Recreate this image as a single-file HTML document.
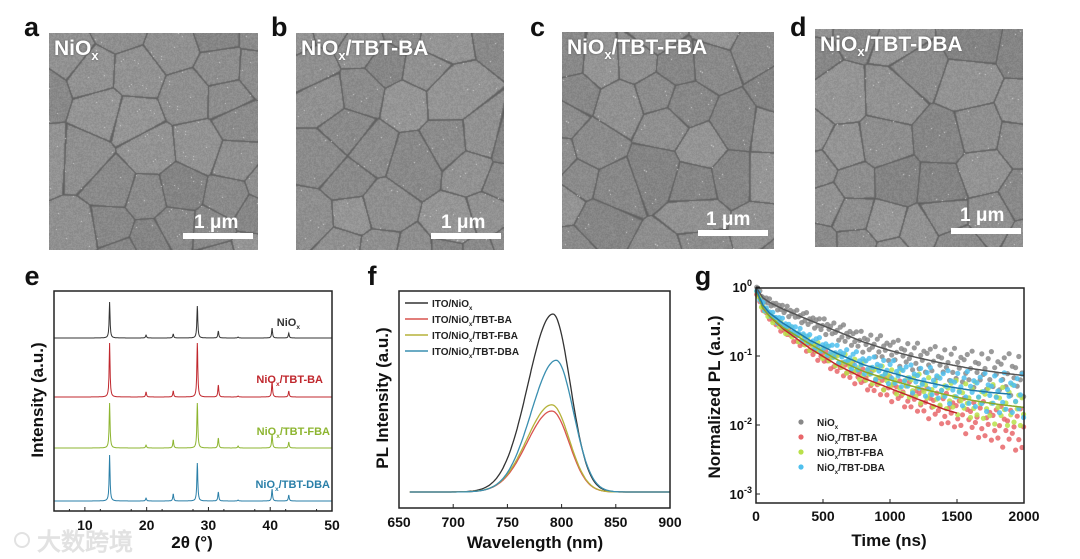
<!DOCTYPE html>
<html><head><meta charset="utf-8">
<style>
body{margin:0;background:#fff;width:1080px;height:559px;overflow:hidden;position:relative;font-family:"Liberation Sans","Noto Sans CJK SC",sans-serif}
.lbl{position:absolute;font-weight:bold;font-size:27px;color:#111}
.sem{position:absolute;background:#8c8c8c;overflow:hidden}
.sem canvas{position:absolute;left:0;top:0}
.st{position:absolute;left:5px;top:4px;color:#fff;font-weight:bold;font-size:21px;white-space:nowrap;text-shadow:0 0 2px #555}
.st sub{font-size:13px}
.sbt{position:absolute;color:#fff;font-weight:bold;font-size:19px}
.sbb{position:absolute;background:#fff;height:6px}
svg{position:absolute;left:0;top:0}
svg text{font-family:"Liberation Sans",sans-serif;font-weight:bold}
</style></head><body>
<div class="lbl" style="left:24px;top:12px">a</div>
<div class="lbl" style="left:271px;top:12px">b</div>
<div class="lbl" style="left:530px;top:12px">c</div>
<div class="lbl" style="left:790px;top:12px">d</div>

<div class="sem" style="left:49px;top:33px;width:209px;height:217px"><canvas width="209" height="217"></canvas><div class="st">NiO<sub>x</sub></div><div class="sbt" style="left:145px;top:179px">1 μm</div><div class="sbb" style="left:134px;top:200px;width:70px"></div></div>
<div class="sem" style="left:296px;top:33px;width:208px;height:217px"><canvas width="208" height="217"></canvas><div class="st">NiO<sub>x</sub>/TBT-BA</div><div class="sbt" style="left:145px;top:179px">1 μm</div><div class="sbb" style="left:135px;top:200px;width:70px"></div></div>
<div class="sem" style="left:562px;top:32px;width:212px;height:217px"><canvas width="212" height="217"></canvas><div class="st">NiO<sub>x</sub>/TBT-FBA</div><div class="sbt" style="left:144px;top:177px">1 μm</div><div class="sbb" style="left:136px;top:198px;width:70px"></div></div>
<div class="sem" style="left:815px;top:29px;width:208px;height:218px"><canvas width="208" height="218"></canvas><div class="st">NiO<sub>x</sub>/TBT-DBA</div><div class="sbt" style="left:145px;top:176px">1 μm</div><div class="sbb" style="left:136px;top:199px;width:70px"></div></div>

<svg id="chart" width="1080" height="559"></svg>

<script>
// ---------- XRD data (panel e) ----------
const xrdPeakPos = [14.0, 19.9, 24.3, 28.2, 31.6, 34.8, 40.3, 43.0];
const xrdNiOx = [36, 3, 4, 32, 7, 1, 10, 5];
const xrdBA   = [54, 5, 6, 54, 12, 1, 16, 6];
const xrdFBA  = [45, 3, 8, 45, 10, 2, 14, 6];
const xrdDBA  = [46, 3, 7, 38, 9, 1, 12, 6];
const xrdXTicks = [10, 20, 30, 40, 50];
// ---------- PL data (panel f) ----------
const plSeriesNames = ["ITO/NiOx", "ITO/NiOx/TBT-BA", "ITO/NiOx/TBT-FBA", "ITO/NiOx/TBT-DBA"];
const plPeakHeights = [1.0, 0.455, 0.49, 0.74];
const plPeakCenters = [792, 791, 791, 795];
const plXTicks = [650, 700, 750, 800, 850, 900];
// ---------- TRPL data (panel g) ----------
const trTimes = [0, 50, 100, 200, 400, 600, 800, 1000, 1200, 1400, 1600, 1800, 2000];
const trNiOx = [1.0, 0.7, 0.6, 0.48, 0.33, 0.23, 0.16, 0.12, 0.095, 0.078, 0.066, 0.058, 0.052];
const trBA   = [0.9, 0.5, 0.38, 0.25, 0.13, 0.075, 0.048, 0.034, 0.024, 0.017, 0.013, 0.010, 0.008];
const trFBA  = [0.9, 0.5, 0.38, 0.26, 0.15, 0.09, 0.06, 0.045, 0.035, 0.028, 0.023, 0.020, 0.018];
const trDBA  = [0.95, 0.55, 0.42, 0.30, 0.17, 0.11, 0.075, 0.058, 0.045, 0.037, 0.032, 0.029, 0.027];
const trFitEnd = [2000, 1500, 2000, 1900];
const trJitter = [0.3,-0.5,0.8,-0.2,0.1,-0.9,0.6,-0.4,0.95,-0.7,0.2,-0.1,0.5,-0.8,0.4,-0.3,0.7,-0.6,0.0,0.9,-0.95,0.35,-0.15];
const trXTicks = [0, 500, 1000, 1500, 2000];

const NS="http://www.w3.org/2000/svg";
const svg=document.getElementById('chart');
function mk(tag,attrs,parent){const e=document.createElementNS(NS,tag);for(const k in attrs)e.setAttribute(k,attrs[k]);(parent||svg).appendChild(e);return e;}
function txt(s,x,y,size,anchor,fill,name,parent){const t=mk('text',{x:x,y:y,'font-size':size,'text-anchor':anchor||'middle',fill:fill||'#111'},parent);t.textContent=s;


return t;}
function sub(t,main,s,rest){t.textContent='';const a=mk('tspan',{},t);a.textContent=main;const b=mk('tspan',{'font-size':'0.6em',dy:'3'},t);b.textContent=s;if(rest){const c=mk('tspan',{dy:'-3'},t);c.textContent=rest;}}

// ===== Panel e =====
(function(){
 const L=54,R=332,T=291,B=511, x0=5,x1=50;
 const xs=v=>L+(v-x0)/(x1-x0)*(R-L);
 const g=mk('g',{});
 
 
 const series=[[xrdNiOx,338,'#333','NiOx',300],[xrdBA,397,'#c0272d','NiOx/TBT-BA',323],[xrdFBA,448,'#8db530','NiOx/TBT-FBA',330],[xrdDBA,501,'#2a7fa8','NiOx/TBT-DBA',330]];
 series.forEach((s,si)=>{
  let d='';
  for(let v=x0;v<=x1;v+=0.04){
   let y=0;xrdPeakPos.forEach((p,i)=>{const w=0.09;y+=s[0][i]/(1+((v-p)/w)**2);});
   d+=(d?'L':'M')+xs(v).toFixed(1)+','+(s[1]-y).toFixed(1);
  }
  const p=mk('path',{d:d,fill:'none',stroke:s[2],'stroke-width':1},g);
  
  
  const t=txt('',s[4],s[1]-[12,14,13,13][si],11,'end',s[2],'xrd-series-label-'+si,g);
  const parts=s[3].split('x');sub(t,parts[0],'x',parts[1]);
 });
 const fr=mk('rect',{x:L,y:T,width:R-L,height:B-T,fill:'none',stroke:'#222','stroke-width':1.5},g);
 
 xrdXTicks.forEach(v=>{mk('line',{x1:xs(v),x2:xs(v),y1:B,y2:B-4,stroke:'#222'},g);txt(String(v),xs(v),B+19,14,'middle','#111','xrd-x-tick-'+v,g);});
 [7.5,12.5,17.5,22.5,27.5,32.5,37.5,42.5,47.5].forEach(v=>mk('line',{x1:xs(v),x2:xs(v),y1:B,y2:B-2,stroke:'#222'},g));
 txt('2θ (°)',192,548,17,'middle','#111','xrd-x-axis-title',g);
 const yt=txt('Intensity (a.u.)',0,0,17,'middle','#111','xrd-y-axis-title',g);yt.setAttribute('transform','translate(43,400) rotate(-90)');
 txt('e',32,285,27,'middle','#111','panel-label-e',g);
})();

// ===== Panel f =====
(function(){
 const L=399,R=670,T=291,B=508,x0=650,x1=900,base=492,unit=178;
 const xs=v=>L+(v-x0)/(x1-x0)*(R-L);
 const ys=v=>base-v*unit;
 const g=mk('g',{});
 
 const cols=['#333','#d9534f','#b5b23a','#3a8fb0'];
 plPeakHeights.forEach((h,i)=>{
  let d='';
  for(let v=660;v<=900;v+=1){const c=plPeakCenters[i];const sg=v<c?23:16;const y=h*Math.exp(-0.5*((v-c)/sg)**2);
   d+=(d?'L':'M')+xs(v).toFixed(1)+','+ys(y).toFixed(1);}
  const p=mk('path',{d:d,fill:'none',stroke:cols[i],'stroke-width':1.3},g);
  
  const ly=303+i*16;
  const ll=mk('line',{x1:405,x2:428,y1:ly,y2:ly,stroke:cols[i],'stroke-width':1.5},g);
  
  const t=txt('',432,ly+4,10,'start','#222','pl-legend-entry-'+i,g);
  const n=plSeriesNames[i];const k=n.indexOf('x');sub(t,n.slice(0,k),'x',n.slice(k+1));
 });
 const fr=mk('rect',{x:L,y:T,width:R-L,height:B-T,fill:'none',stroke:'#222','stroke-width':1.5},g);
 
 plXTicks.forEach(v=>{mk('line',{x1:xs(v),x2:xs(v),y1:B,y2:B-4,stroke:'#222'},g);txt(String(v),xs(v),B+19,14,'middle','#111','pl-x-tick-'+v,g);});
 txt('Wavelength (nm)',535,548,17,'middle','#111','pl-x-axis-title',g);
 const yt=txt('PL Intensity (a.u.)',0,0,17,'middle','#111','pl-y-axis-title',g);yt.setAttribute('transform','translate(388,398) rotate(-90)');
 txt('f',372,285,27,'middle','#111','panel-label-f',g);
})();

// ===== Panel g =====
(function(){
 const L=756,R=1024,T=288,B=503,x0=0,x1=2000;
 const xs=v=>L+(v-x0)/(x1-x0)*(R-L);
 const ys=v=>287-(Math.log10(v))*69;
 const g=mk('g',{});
 
 const interp=(arr,t)=>{for(let i=1;i<trTimes.length;i++){if(t<=trTimes[i]){const f=(t-trTimes[i-1])/(trTimes[i]-trTimes[i-1]);return Math.exp(Math.log(arr[i-1])*(1-f)+Math.log(arr[i])*f);}}return arr[arr.length-1];};
 const sets=[[trNiOx,'#888','#555','NiOx'],[trBA,'#e8666a','#c0272d','NiOx/TBT-BA'],[trFBA,'#b9e04a','#8aa82a','NiOx/TBT-FBA'],[trDBA,'#4fc0ee','#1f78a8','NiOx/TBT-DBA']];
 const order=[0,1,2,3];
 order.forEach(si=>{
  const s=sets[si];let k=si*5;
  for(let t=5;t<=2000;t+=12){
   const spread=0.04+0.3*t/2000;const j=trJitter[(k++)%trJitter.length];
   let v=interp(s[0],t)*Math.pow(10,j*spread);
   const y=Math.min(ys(v),B-4);
   const c=mk('circle',{cx:xs(t).toFixed(1),cy:y.toFixed(1),r:2.6,fill:s[1],opacity:0.85},g);
   
  }
 });
 order.forEach(si=>{
  const s=sets[si];let d='';
  for(let t=0;t<=trFitEnd[si];t+=10){d+=(d?'L':'M')+xs(t).toFixed(1)+','+ys(interp(s[0],t)).toFixed(1);}
  const p=mk('path',{d:d,fill:'none',stroke:s[2],'stroke-width':1.5},g);
  
  const ly=422+si*15;
  const lc=mk('circle',{cx:801,cy:ly,r:2.6,fill:s[1]},g);
  
  const t=txt('',817,ly+4,10,'start','#222','trpl-legend-entry-'+si,g);
  const n=s[3];const kk=n.indexOf('x');sub(t,n.slice(0,kk),'x',n.slice(kk+1));
 });
 const fr=mk('rect',{x:L,y:T,width:R-L,height:B-T,fill:'none',stroke:'#222','stroke-width':1.5},g);
 
 trXTicks.forEach(v=>{mk('line',{x1:xs(v),x2:xs(v),y1:B,y2:B-4,stroke:'#222'},g);txt(String(v),xs(v),B+18,14,'middle','#111','trpl-x-tick-'+v,g);});
 [0,-1,-2,-3].forEach(e=>{const y=ys(Math.pow(10,e));mk('line',{x1:L,x2:L+4,y1:y,y2:y,stroke:'#222'},g);
  const t=txt('',L-4,y+5,13,'end','#111','trpl-y-tick-'+e,g);const a=mk('tspan',{},t);a.textContent='10';const b=mk('tspan',{'font-size':'9',dy:'-6'},t);b.textContent=String(e);});
 txt('Time (ns)',889,546,17,'middle','#111','trpl-x-axis-title',g);
 const yt=txt('Normalized PL (a.u.)',0,0,17,'middle','#111','trpl-y-axis-title',g);yt.setAttribute('transform','translate(720,397) rotate(-90)');
 txt('g',703,285,27,'middle','#111','panel-label-g',g);
})();

// watermark
(function(){const t=txt('大数跨境',85,550,24,'middle','#e2e2e2','watermark',null);t.setAttribute('font-weight','normal');
 t.setAttribute('font-family','"Noto Sans CJK SC",sans-serif');
 const c=mk('circle',{cx:22,cy:540,r:7,fill:'none',stroke:'#e2e2e2','stroke-width':2});
 })();

// SEM textures (decorative)
(function(){
 let seed=12345;const rnd=()=>{seed=(seed*1103515245+12345)%2147483648;return seed/2147483648;};
 document.querySelectorAll('.sem canvas').forEach((cv,ci)=>{
  const ctx=cv.getContext('2d');const W=cv.width,H=cv.height;
  const pts=[];let tries=0;
  while(pts.length<34&&tries<3000){tries++;const p=[-10+rnd()*(W+20),-10+rnd()*(H+20),132+rnd()*18];
   if(pts.every(q=>Math.hypot(q[0]-p[0],q[1]-p[1])>28))pts.push(p);}
  const img=ctx.createImageData(W,H);
  for(let y=0;y<H;y++)for(let x=0;x<W;x++){
   let d1=1e9,d2=1e9,b=0;for(const p of pts){const d=Math.hypot(p[0]-x,p[1]-y);if(d<d1){d2=d1;d1=d;b=p[2];}else if(d<d2)d2=d;}
   let v=b+(rnd()-0.5)*22;if(d2-d1<1.6)v=92+(d2-d1)*15;
   if(rnd()<0.002)v=215;
   const i=(y*W+x)*4;img.data[i]=img.data[i+1]=img.data[i+2]=v;img.data[i+3]=255;}
  ctx.putImageData(img,0,0);
 });
})();
</script>
</body></html>
